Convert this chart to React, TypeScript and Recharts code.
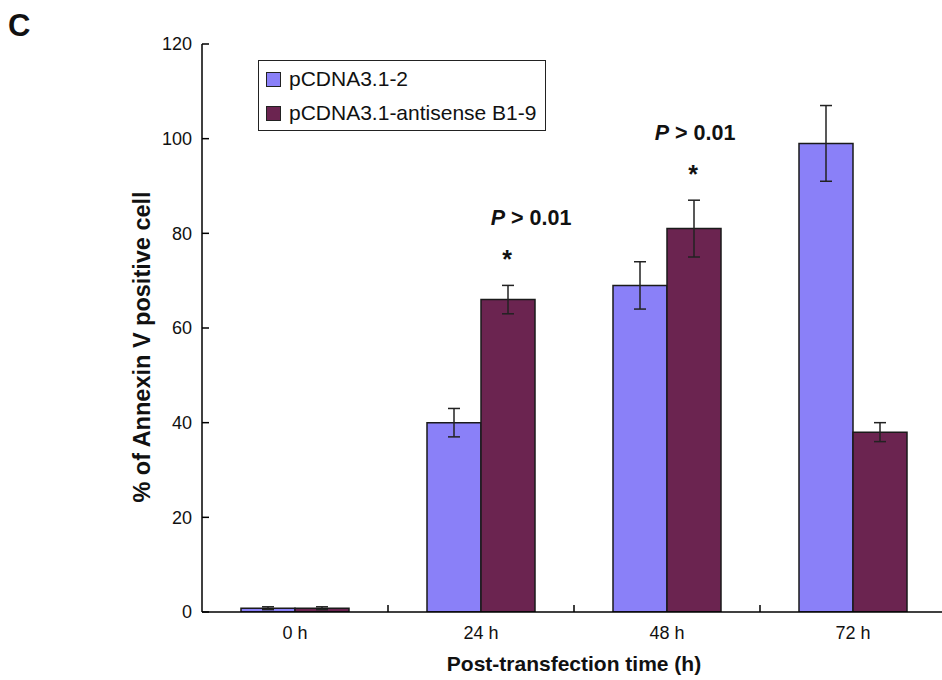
import React from 'react';
import { BarChart, Bar, XAxis, YAxis, ErrorBar, Legend, ReferenceDot } from 'recharts';

const categories = ['0 h', '24 h', '48 h', '72 h'];
const controlValues = [0.8, 40, 69, 99];
const controlErrors = [0.3, 3, 5, 8];
const antisenseValues = [0.8, 66, 81, 38];
const antisenseErrors = [0.3, 3, 6, 2];
const significant = [false, true, true, false];
const yTicks = [0, 20, 40, 60, 80, 100, 120];
const seriesNames = ['pCDNA3.1-2', 'pCDNA3.1-antisense B1-9'];
const sigLabel = '> 0.01';
const panelLetter = 'C';
const xTitle = 'Post-transfection time (h)';
const yTitle = '% of Annexin V positive cell';

const BLUE = '#8a80f8';
const MAROON = '#6b2450';
const FONT = '"Liberation Sans", Arial, Helvetica, sans-serif';

const data = categories.map((c, i) => ({
  name: c,
  control: controlValues[i],
  controlErr: controlErrors[i],
  antisense: antisenseValues[i],
  antisenseErr: antisenseErrors[i],
}));

const CHART_W = 960;
const CHART_H = 680;
const Y_AXIS_W = 202;
const MARGIN = { top: 44, right: 14, bottom: 0, left: 0 };
const X_AXIS_H = 68;
const PLOT_W = CHART_W - Y_AXIS_W - MARGIN.left - MARGIN.right;
const STEP = PLOT_W / categories.length;
const BAR = 54;

const YTick = (props: any) => {
  const { x, y, payload } = props;
  return (
    <g>
      <line x1={x} x2={x + 7} y1={y} y2={y} stroke="#000" strokeWidth={1.5} />
      <text x={x - 10} y={y} dy="0.35em" textAnchor="end" fontSize={18} fontFamily={FONT} fill="#111">
        {payload.value}
      </text>
    </g>
  );
};

const XTick = (props: any) => {
  const { x, y, payload, index } = props;
  const bx = x + STEP / 2;
  return (
    <g>
      {index < categories.length - 1 && (
        <line x1={bx} x2={bx} y1={y} y2={y - 7} stroke="#000" strokeWidth={1.5} />
      )}
      <text x={x} y={y + 27} textAnchor="middle" fontSize={18} fontFamily={FONT} fill="#111">
        {payload.value}
      </text>
    </g>
  );
};

const YTitle = (props: any) => {
  const vb = props.viewBox || {};
  const cx = vb.x + 142;
  const cy = vb.y + vb.height / 2 + 19;
  return (
    <text
      x={cx}
      y={cy}
      transform={`rotate(-90 ${cx} ${cy})`}
      textAnchor="middle"
      dy="0.35em"
      fontSize={23.5}
      fontWeight="bold"
      fontFamily={FONT}
      fill="#111"
    >
      {yTitle}
    </text>
  );
};

const XTitle = (props: any) => {
  const vb = props.viewBox || {};
  return (
    <text x={vb.x + vb.width / 2} y={vb.y + 59} textAnchor="middle" fontSize={21} fontWeight="bold" fontFamily={FONT} fill="#111">
      {xTitle}
    </text>
  );
};

const makeSig = (index: number) => (props: any) => {
  const vb = props.viewBox || {};
  const cx = vb.x + BAR / 2;
  const yTop = vb.y;
  const pOffset = index === 1 ? 23 : 1;
  return (
    <g>
      <text x={cx - 1} y={yTop - 17} textAnchor="middle" fontSize={25} fontWeight="bold" fontFamily={FONT} fill="#111">
        *
      </text>
      <text x={cx + pOffset} y={yTop - 60} textAnchor="middle" fontSize={21.5} fontWeight="bold" fontFamily={FONT} fill="#111">
        <tspan fontStyle="italic">P</tspan> {sigLabel}
      </text>
    </g>
  );
};

const LegendBox = () => (
  <div
    style={{
      border: '1.5px solid #222',
      width: 286,
      height: 69,
      boxSizing: 'content-box',
      fontFamily: FONT,
      fontSize: 21,
      color: '#111',
      background: '#fff',
    }}
  >
    {[BLUE, MAROON].map((c, i) => (
      <div key={i} style={{ display: 'flex', alignItems: 'center', height: 34, paddingLeft: 7, marginTop: i === 0 ? 1 : 0 }}>
        <div style={{ width: 13, height: 13, background: c, border: '1px solid #222', marginRight: 8 }} />
        <span style={{ whiteSpace: 'nowrap' }}>{seriesNames[i]}</span>
      </div>
    ))}
  </div>
);

export default function App() {
  return (
    <div style={{ position: 'absolute', left: 0, top: 0, width: 942, height: 680, overflow: 'hidden', background: '#fff' }}>
      <div style={{ position: 'absolute', left: 8, top: 8, fontFamily: FONT, fontWeight: 'bold', fontSize: 31, lineHeight: '36px', color: '#111' }}>
        {panelLetter}
      </div>
      <BarChart width={CHART_W} height={CHART_H} data={data} margin={MARGIN} barGap={0} barSize={BAR}>
        <XAxis
          dataKey="name"
          height={X_AXIS_H}
          tickLine={false}
          tickSize={0}
          tickMargin={0}
          tick={<XTick />}
          axisLine={{ stroke: '#000', strokeWidth: 1.5 }}
          interval={0}
          label={<XTitle />}
        />
        <YAxis
          width={Y_AXIS_W}
          domain={[0, 120]}
          ticks={yTicks}
          tickLine={false}
          tickSize={0}
          tickMargin={0}
          tick={<YTick />}
          axisLine={{ stroke: '#000', strokeWidth: 1.5 }}
          allowDataOverflow
          label={<YTitle />}
        />
        <Legend
          layout="vertical"
          align="center"
          verticalAlign="middle"
          content={<LegendBox />}
          wrapperStyle={{ position: 'absolute', left: 258, top: 60, width: 290, height: 73 }}
        />
        <Bar dataKey="control" name={seriesNames[0]} fill={BLUE} stroke="#1a1a1a" strokeWidth={1.5} isAnimationActive={false}>
          <ErrorBar dataKey="controlErr" width={6} stroke="#222" strokeWidth={1.5} direction="y" />
        </Bar>
        <Bar dataKey="antisense" name={seriesNames[1]} fill={MAROON} stroke="#1a1a1a" strokeWidth={1.5} isAnimationActive={false}>
          <ErrorBar dataKey="antisenseErr" width={6} stroke="#222" strokeWidth={1.5} direction="y" />
        </Bar>
        {categories.map((c, i) =>
          significant[i] ? (
            <ReferenceDot
              key={c}
              x={c}
              y={antisenseValues[i] + antisenseErrors[i]}
              r={0}
              fill="none"
              stroke="none"
              label={makeSig(i)}
            />
          ) : null
        )}
      </BarChart>
    </div>
  );
}
